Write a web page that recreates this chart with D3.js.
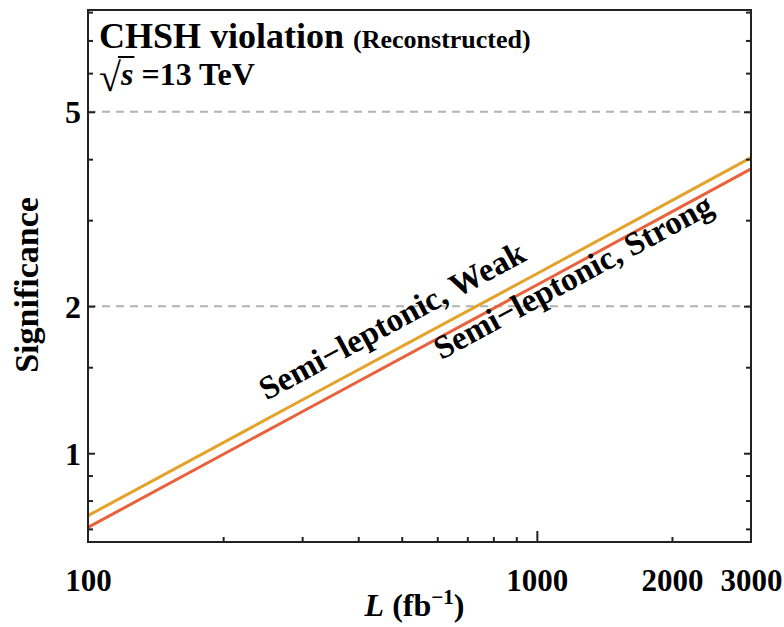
<!DOCTYPE html>
<html>
<head>
<meta charset="utf-8">
<script src="https://cdn.jsdelivr.net/npm/d3@7"></script>
<style>
  body { margin: 0; background: #fff; }
  text { font-family: "Liberation Serif", "Times New Roman", serif; font-weight: bold; fill: #000; }
</style>
</head>
<body>
<div id="chart"></div>
<script>
// data
const lumi = [100, 300, 1000, 3000];
const weakSig = [0.745, 1.285, 2.33, 4.03];
const strongSig = [0.705, 1.216, 2.21, 3.82];

const xLabelTicks = [100, 1000, 2000, 3000];
const xMajorTicks = [1000];
const xMinorTicks = [200, 300, 400, 500, 600, 700, 800, 900, 2000];
const yLabelTicks = [1, 2, 5];
const yMinorTicks = [0.7, 0.8, 0.9, 1.5, 3, 4, 6, 7, 8];
const gridLevels = [2, 5];

const series = [
  { name: "Semi\u2212leptonic, Weak", values: weakSig, color: "#e5a22a", labelAt: [250, 1.28] },
  { name: "Semi\u2212leptonic, Strong", values: strongSig, color: "#e8623c", labelAt: [612, 1.55] }
];

const width = 784, height = 627;
const margin = { top: 10, right: 33, bottom: 85, left: 88 };

const x = d3.scaleLog().domain([100, 3000]).range([margin.left, width - margin.right]);
const y = d3.scaleLog().domain([0.658, 8.08]).range([height - margin.bottom, margin.top]);

const svg = d3.select("#chart").append("svg")
  .attr("width", width)
  .attr("height", height);

// dashed reference levels
svg.append("g")
  .selectAll("line")
  .data(gridLevels)
  .join("line")
  .attr("x1", x.range()[0])
  .attr("x2", x.range()[1])
  .attr("y1", d => y(d))
  .attr("y2", d => y(d))
  .attr("stroke", "#b3b3b3")
  .attr("stroke-width", 2)
  .attr("stroke-dasharray", "8,6");

// curves
const line = d3.line()
  .x((d, i) => x(lumi[i]))
  .y(d => y(d));

svg.append("g")
  .selectAll("path")
  .data(series)
  .join("path")
  .attr("d", d => line(d.values))
  .attr("fill", "none")
  .attr("stroke", d => d.color)
  .attr("stroke-width", 3);

// curve labels, rotated along the lines
series.forEach(s => {
  const n = s.values.length - 1;
  const angle = Math.atan2(y(s.values[n]) - y(s.values[0]), x(lumi[n]) - x(lumi[0])) * 180 / Math.PI;
  const px = x(s.labelAt[0]), py = y(s.labelAt[1]);
  svg.append("text")
    .attr("transform", `translate(${px},${py}) rotate(${angle})`)
    .attr("font-size", 33)
    .text(s.name);
});

// axes: ticks point inwards
const frame = svg.append("g").attr("class", "frame");

const xAxisLabels = d3.axisBottom(x).tickValues(xLabelTicks).tickFormat(d3.format("d")).tickSize(0).tickPadding(27);
frame.append("g")
  .attr("transform", `translate(0,${y.range()[0]})`)
  .call(xAxisLabels)
  .call(g => g.select(".domain").remove())
  .call(g => g.selectAll("text").attr("font-size", 31).attr("fill", "#000").attr("font-family", null));

frame.append("g")
  .attr("transform", `translate(0,${y.range()[0]})`)
  .call(d3.axisBottom(x).tickValues(xMajorTicks).tickSize(-11).tickFormat(""))
  .call(g => g.select(".domain").remove());

frame.append("g")
  .attr("transform", `translate(0,${y.range()[0]})`)
  .call(d3.axisBottom(x).tickValues(xMinorTicks).tickSize(-5).tickFormat(""))
  .call(g => g.select(".domain").remove());

frame.append("g")
  .attr("transform", `translate(${x.range()[0]},0)`)
  .call(d3.axisLeft(y).tickValues(yLabelTicks).tickFormat(d3.format("d")).tickSize(-7).tickPadding(7))
  .call(g => g.select(".domain").remove())
  .call(g => g.selectAll("text").attr("font-size", 32).attr("fill", "#000").attr("font-family", null).attr("dy", "0.34em"));

frame.append("g")
  .attr("transform", `translate(${x.range()[0]},0)`)
  .call(d3.axisLeft(y).tickValues(yMinorTicks).tickSize(-5).tickFormat(""))
  .call(g => g.select(".domain").remove());

frame.append("g")
  .attr("transform", `translate(${x.range()[1]},0)`)
  .call(d3.axisRight(y).tickValues(yLabelTicks).tickSize(-7).tickFormat(""))
  .call(g => g.select(".domain").remove());

frame.append("g")
  .attr("transform", `translate(${x.range()[1]},0)`)
  .call(d3.axisRight(y).tickValues(yMinorTicks).tickSize(-5).tickFormat(""))
  .call(g => g.select(".domain").remove());

frame.selectAll(".tick line").attr("stroke", "#222").attr("stroke-width", 2);

frame.append("rect")
  .attr("x", x.range()[0])
  .attr("y", y.range()[1])
  .attr("width", x.range()[1] - x.range()[0])
  .attr("height", y.range()[0] - y.range()[1])
  .attr("fill", "none")
  .attr("stroke", "#222")
  .attr("stroke-width", 2);

// axis titles
const xTitle = svg.append("text")
  .attr("x", (x.range()[0] + x.range()[1]) / 2 - 5)
  .attr("y", 616)
  .attr("text-anchor", "middle")
  .attr("font-size", 32);
xTitle.append("tspan").attr("font-style", "italic").text("L");
xTitle.append("tspan").text(" (fb");
xTitle.append("tspan").attr("font-size", 21).attr("dy", -12).text("\u22121");
xTitle.append("tspan").attr("dy", 12).text(")");

svg.append("text")
  .attr("transform", `translate(38,${(y.range()[0] + y.range()[1]) / 2 + 9}) rotate(-90)`)
  .attr("text-anchor", "middle")
  .attr("font-size", 34)
  .text("Significance");

// title block
const title = svg.append("text")
  .attr("x", 99)
  .attr("y", 48);
title.append("tspan").attr("font-size", 36).text("CHSH violation ");
title.append("tspan").attr("font-size", 26).text("(Reconstructed)");

const energy = svg.append("text")
  .attr("x", 99)
  .attr("y", 85)
  .attr("font-size", 32);
energy.append("tspan").attr("font-size", 40).attr("font-weight", "normal").attr("dy", 6).text("\u221a");
energy.append("tspan").attr("class", "rad").attr("font-style", "italic").attr("dy", -6).text("s");
energy.append("tspan").text(" =13 TeV");

// vinculum over s
const bb = energy.select(".rad").node().getBBox();
svg.append("line")
  .attr("x1", bb.x - 2)
  .attr("x2", bb.x + bb.width + 1)
  .attr("y1", bb.y + 1)
  .attr("y2", bb.y + 1)
  .attr("stroke", "#000")
  .attr("stroke-width", 2);
</script>
</body>
</html>
